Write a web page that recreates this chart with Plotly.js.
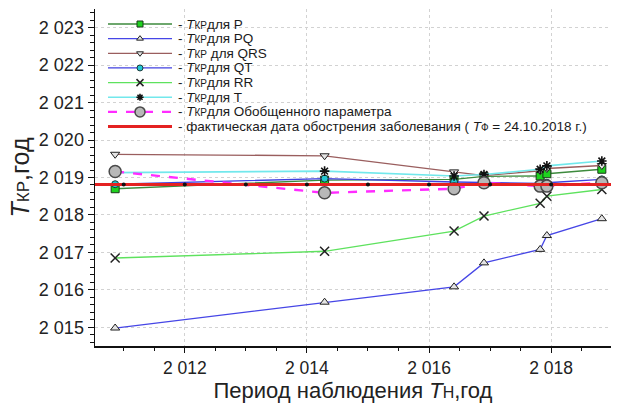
<!DOCTYPE html>
<html>
<head>
<meta charset="utf-8">
<script src="https://cdn.plot.ly/plotly-3.0.1.min.js"></script>
<style>
  html, body { margin: 0; padding: 0; background: #fff; }
  #chart { width: 617px; height: 403px; }
</style>
</head>
<body>
<div id="chart"></div>
<script>
// Observation dates (years) at which the forecast was recomputed
const observationYears = [2010.86, 2014.29, 2016.41, 2016.90, 2017.82, 2017.93, 2018.83];

// Forecast crisis date T_KP (years) per ECG parameter
const tkrP      = [2018.70, 2018.93, 2018.95, 2019.03, 2019.04, 2019.10, 2019.22];
const tkrPQ     = [2014.98, 2015.67, 2016.08, 2016.72, 2017.08, 2017.45, 2017.90];
const tkrQRS    = [2019.62, 2019.58, 2019.15, 2019.05, 2019.18, 2019.24, 2019.32];
const tkrQT     = [2018.82, 2018.97, 2018.88, 2018.86, 2018.84, 2018.86, 2018.95];
const tkrRR     = [2016.85, 2017.03, 2017.57, 2017.97, 2018.31, 2018.50, 2018.68];
const tkrT      = [2019.13, 2019.17, 2019.04, 2019.08, 2019.22, 2019.31, 2019.44];
const tkrGeneral= [2019.16, 2018.59, 2018.70, 2018.86, 2018.77, 2018.77, 2018.86];

// Actual exacerbation date: 24.10.2018
const factDay = 24, factMonth = 10, factYear = 2018;
const factDayOfYear = (Date.UTC(factYear, factMonth - 1, factDay) - Date.UTC(factYear, 0, 1)) / 86400000 + 1;
const factValue = factYear + (factDayOfYear - 1) / 365;
const factMarkYears = [2011, 2012, 2013, 2014, 2015, 2016, 2017, 2018];

// Tick labels
const xTickVals = [2012, 2014, 2016, 2018];
const xTickText = ['2 012', '2 014', '2 016', '2 018'];
const yTickVals = [2015, 2016, 2017, 2018, 2019, 2020, 2021, 2022, 2023];
const yTickText = ['2 015', '2 016', '2 017', '2 018', '2 019', '2 020', '2 021', '2 022', '2 023'];

const kp = '<i>T</i><span style="font-size:10px">КР</span>';
const legendLabels = [
  '- ' + kp + 'для P',
  '- ' + kp + 'для PQ',
  '- ' + kp + ' для QRS',
  '- ' + kp + 'для QT',
  '- ' + kp + 'для RR',
  '- ' + kp + 'для T',
  '- ' + kp + 'для Обобщенного параметра',
  '- фактическая дата обострения заболевания ( <i>T</i><span style="font-size:10px">Ф</span> = 24.10.2018 г.)'
];

const xRange = [2010.53, 2018.98];
const yRange = [2014.5, 2023.5];

// Styles for each series
const seriesStyles = [
  { y: tkrP,   line: { color: '#3d8a3d', width: 1.3 },
    marker: { symbol: 'square', size: 8, color: '#1ed21e', line: { color: '#1a3a1a', width: 1 } } },
  { y: tkrPQ,  line: { color: '#4646e6', width: 1.3 },
    marker: { symbol: 'triangle-up', size: 8, color: '#e4e4e4', line: { color: '#222', width: 1 } } },
  { y: tkrQRS, line: { color: '#9a5e5e', width: 1.3 },
    marker: { symbol: 'triangle-down', size: 8, color: '#e4e4e4', line: { color: '#222', width: 1 } } },
  { y: tkrQT,  line: { color: '#4040e0', width: 1.3 },
    marker: { symbol: 'circle', size: 7, color: '#22c8d2', line: { color: '#1a3a3a', width: 1 } } },
  { y: tkrRR,  line: { color: '#5ee25e', width: 1.3 },
    marker: { symbol: 'x-thin-open', size: 9, color: '#222', line: { color: '#222', width: 1.5 } } },
  { y: tkrT,   line: { color: '#72e8ec', width: 1.6 },
    marker: { symbol: 'asterisk-open', size: 8, color: '#111', line: { color: '#111', width: 1.6 } } },
  { y: tkrGeneral, line: { color: '#ff2cff', width: 2.4, dash: 'dash' },
    marker: { symbol: 'circle', size: 12, color: '#b8b8b8', line: { color: '#4a4a4a', width: 1.5 } } }
];
const factLineStyle = { color: '#e42222', width: 3 };

const data = [];
seriesStyles.forEach(function (s) {
  data.push({
    type: 'scatter', mode: 'lines+markers',
    x: observationYears, y: s.y,
    line: s.line, marker: s.marker,
    showlegend: false, hoverinfo: 'x+y'
  });
});
// Actual date line with yearly dots
data.push({
  type: 'scatter', mode: 'lines',
  x: xRange, y: xRange.map(function () { return factValue; }),
  line: factLineStyle, showlegend: false, hoverinfo: 'y'
});
data.push({
  type: 'scatter', mode: 'markers',
  x: factMarkYears, y: factMarkYears.map(function () { return factValue; }),
  marker: { symbol: 'circle', size: 4, color: '#111' },
  showlegend: false, hoverinfo: 'x'
});

// Legend drawn on an overlay pixel-unit axis pair (origin at the plot's top-left)
const plotW = 516, plotH = 337;
const legRowTop = 15, legRowGap = 14.65;
const legX0 = 13, legXm = 45, legX1 = 77, legTextX = 81;
const legMarkerScale = 0.8;
const annotations = [];
const legendStyles = seriesStyles.map(function (s) { return { line: s.line, marker: s.marker }; });
legendStyles.push({ line: factLineStyle, marker: null });
legendStyles.forEach(function (s, i) {
  const ry = legRowTop + legRowGap * i;
  const tr = {
    type: 'scatter', xaxis: 'x2', yaxis: 'y2',
    x: [legX0, legXm, legX1], y: [ry, ry, ry],
    mode: s.marker ? 'lines+markers' : 'lines',
    line: s.line, showlegend: false, hoverinfo: 'skip'
  };
  if (s.marker) {
    tr.marker = Object.assign({}, s.marker, {
      opacity: [0, 1, 0],
      size: Math.round(s.marker.size * legMarkerScale)
    });
  }
  data.push(tr);
  annotations.push({
    xref: 'x2', yref: 'y2', x: legTextX, y: ry,
    xanchor: 'left', yanchor: 'middle', showarrow: false,
    text: legendLabels[i],
    font: { family: 'Arial, "Liberation Sans", sans-serif', size: 13.5, color: '#1a1a1a' }
  });
});

const yTickFont = { family: 'Arial, "Liberation Sans", sans-serif', size: 18, color: '#222' };
const xTickFont = { family: 'Arial, "Liberation Sans", sans-serif', size: 17.5, color: '#222' };

const layout = {
  width: 617, height: 403,
  margin: { l: 95, r: 6, t: 9, b: 57 },
  paper_bgcolor: '#ffffff', plot_bgcolor: '#ffffff',
  showlegend: false,
  font: { family: 'Arial, "Liberation Sans", sans-serif', color: '#222' },
  xaxis: {
    range: xRange, tickvals: xTickVals, ticktext: xTickText,
    tickfont: xTickFont,
    showline: true, linecolor: '#111', linewidth: 1.5,
    ticks: 'outside', ticklen: 5, tickcolor: '#111', tickwidth: 1,
    minor: { dtick: 0.5, tick0: 2010, ticks: 'outside', ticklen: 3.5, tickcolor: '#111', showgrid: false },
    showgrid: true, gridcolor: '#d2d2d2', griddash: 'dot', gridwidth: 1,
    zeroline: false, mirror: false,
    title: { text: 'Период наблюдения <i>T</i><span style="font-size:16px">Н</span>,год',
             font: { family: 'Arial, "Liberation Sans", sans-serif', size: 22, color: '#222' }, standoff: 9 }
  },
  yaxis: {
    range: yRange, tickvals: yTickVals, ticktext: yTickText,
    tickfont: yTickFont,
    showline: true, linecolor: '#111', linewidth: 1.5,
    ticks: 'outside', ticklen: 6, tickcolor: '#111', tickwidth: 1,
    minor: { dtick: 0.2, tick0: 2015, ticks: 'outside', ticklen: 3.5, tickcolor: '#111', showgrid: false },
    showgrid: true, gridcolor: '#d2d2d2', griddash: 'dot', gridwidth: 1,
    zeroline: false, mirror: false,
    title: { text: '<i>T</i><span style="font-size:17px">КР</span>,год',
             font: { family: 'Arial, "Liberation Sans", sans-serif', size: 25, color: '#222' }, standoff: 2 }
  },
  xaxis2: { overlaying: 'x', anchor: 'y2', range: [0, plotW], visible: false, fixedrange: true },
  yaxis2: { overlaying: 'y', anchor: 'x2', range: [plotH, 0], visible: false, fixedrange: true },
  annotations: annotations
};

Plotly.newPlot('chart', data, layout, { displayModeBar: false, staticPlot: true });
</script>
</body>
</html>
